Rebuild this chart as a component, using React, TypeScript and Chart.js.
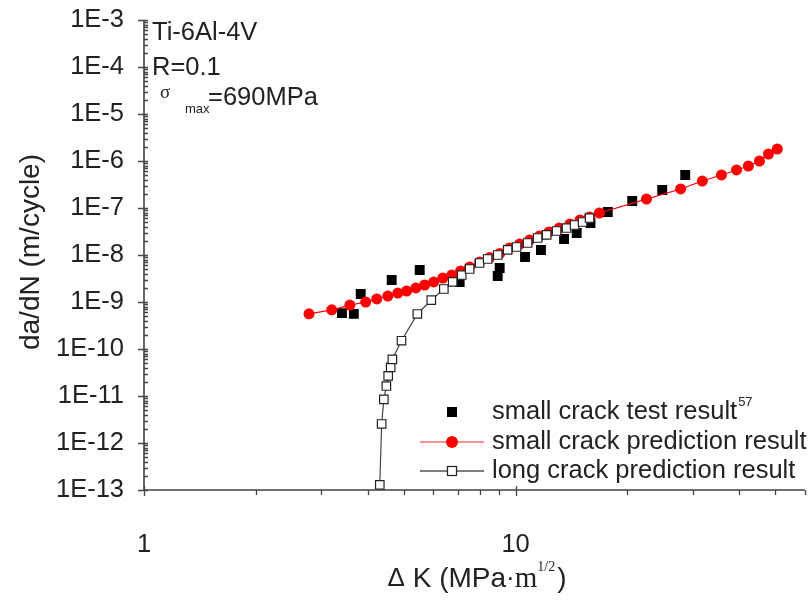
import React, { useEffect, useRef } from "react";
import { Chart, registerables } from "chart.js";

Chart.register(...registerables);

// Small crack test results (ΔK in MPa·m^1/2, da/dN in m/cycle)
const testDK = [3.41, 3.67, 3.83, 4.64, 5.52, 7.07, 8.95, 9.06, 10.6, 11.7, 13.5, 14.6, 15.9, 17.7, 20.6, 24.8, 28.6];
const testRate = [5.8e-10, 5.6e-10, 1.48e-9, 2.94e-9, 4.8e-9, 2.67e-9, 3.57e-9, 5.29e-9, 9.06e-9, 1.28e-8, 2.19e-8, 2.94e-8, 4.8e-8, 8.22e-8, 1.41e-7, 2.42e-7, 5.04e-7];

// Small crack prediction
const smallPredDK = [
  2.78, 3.2, 3.58, 3.95, 4.23, 4.53, 4.82, 5.09, 5.39, 5.69, 6.02, 6.37, 6.73, 7.11, 7.52, 8.0, 8.51, 9.06,
  9.63, 10.25, 10.9, 11.6, 12.3, 13.1, 14.0, 14.9, 15.8, 16.8, 22.5, 27.8, 31.8, 35.8, 39.3, 42.3, 45.3, 47.9, 50.6,
];
const smallPredRate = [
  5.6e-10, 6.8e-10, 8.6e-10, 1.0e-9, 1.16e-9, 1.34e-9, 1.55e-9, 1.71e-9, 1.99e-9, 2.3e-9, 2.67e-9, 3.24e-9, 3.75e-9,
  4.57e-9, 5.56e-9, 7.1e-9, 8.8e-9, 1.08e-8, 1.41e-8, 1.71e-8, 2.08e-8, 2.54e-8, 3.09e-8, 3.75e-8, 4.57e-8, 5.56e-8,
  6.44e-8, 7.83e-8, 1.55e-7, 2.54e-7, 3.75e-7, 5.04e-7, 6.44e-7, 7.83e-7, 1.0e-6, 1.41e-6, 1.8e-6,
];

// Long crack prediction
const longPredDK = [
  4.31, 4.36, 4.42, 4.49, 4.54, 4.61, 4.66, 4.93, 5.44, 5.93, 6.41, 6.77, 7.16, 7.52, 8.0, 8.41, 8.95, 9.52,
  10.06, 10.77, 11.46, 12.12, 12.89, 13.71, 14.41, 15.14, 15.81,
];
const longPredRate = [
  1.28e-13, 2.54e-12, 8.5e-12, 1.63e-11, 2.67e-11, 4.08e-11, 6.04e-11, 1.5e-10, 5.56e-10, 1.1e-9, 1.89e-9, 2.67e-9,
  3.75e-9, 5.04e-9, 6.76e-9, 8.22e-9, 1.0e-8, 1.28e-8, 1.48e-8, 1.8e-8, 2.3e-8, 2.67e-8, 3.24e-8, 3.75e-8, 4.35e-8,
  5.04e-8, 6.12e-8,
];

const xTickValues = [1, 10];
const yTickValues = [1e-13, 1e-12, 1e-11, 1e-10, 1e-9, 1e-8, 1e-7, 1e-6, 1e-5, 1e-4, 1e-3];
const xMinorValues = [2, 3, 4, 5, 6, 7, 8, 9, 20, 30, 40, 50, 60];

const legendLabels = ["small crack test result", "small crack prediction result", "long crack prediction result"];
const legendRef = "57";
const noteLines = ["Ti-6Al-4V", "R=0.1"];

const SANS = "'Liberation Sans', Arial, Helvetica, sans-serif";
const SERIF = "'Liberation Serif', 'Times New Roman', serif";
const TEXT = "#222";
const AXIS = "#444";
const RED = "#ff0000";
const FS = 25.5;

const toPoints = (xs: number[], ys: number[]) => xs.map((x, i) => ({ x, y: ys[i] }));

const axesPlugin = {
  id: "axesTicks",
  beforeDatasetsDraw(chart: any) {
    const { ctx, chartArea: a, scales } = chart;
    const x = scales.x;
    const y = scales.y;
    ctx.save();
    ctx.strokeStyle = AXIS;
    ctx.lineWidth = 1.6;
    ctx.beginPath();
    ctx.moveTo(a.left, a.top);
    ctx.lineTo(a.left, a.bottom);
    ctx.lineTo(a.right, a.bottom);
    ctx.stroke();

    ctx.lineWidth = 1.3;
    ctx.beginPath();
    // y: major ticks cross the axis, minor ticks point inward
    for (let e = -13; e <= -3; e++) {
      const py = Math.round(y.getPixelForValue(Math.pow(10, e))) + 0.5;
      ctx.moveTo(a.left - 6, py);
      ctx.lineTo(a.left + 4, py);
      if (e < -3) {
        for (let k = 2; k <= 9; k++) {
          const pm = Math.round(y.getPixelForValue(k * Math.pow(10, e))) + 0.5;
          ctx.moveTo(a.left, pm);
          ctx.lineTo(a.left + 4, pm);
        }
      }
    }
    // x: major ticks cross the axis, minor ticks point outward
    for (const v of xTickValues) {
      const px = Math.round(x.getPixelForValue(v)) + 0.5;
      ctx.moveTo(px, a.bottom - 4);
      ctx.lineTo(px, a.bottom + 6);
    }
    for (const v of xMinorValues) {
      const px = Math.round(x.getPixelForValue(v)) + 0.5;
      ctx.moveTo(px, a.bottom);
      ctx.lineTo(px, a.bottom + 5);
    }
    ctx.stroke();
    ctx.restore();
  },
  afterDraw(chart: any) {
    const { ctx } = chart;
    ctx.save();
    ctx.fillStyle = TEXT;
    ctx.textBaseline = "middle";
    ctx.textAlign = "left";

    // notes in the upper-left corner
    ctx.font = `${FS}px ${SANS}`;
    ctx.fillText(noteLines[0], 152, 33);
    ctx.fillText(noteLines[1], 152, 68);
    ctx.font = `19px ${SERIF}`;
    ctx.fillText("σ", 160, 93);
    ctx.font = `13px ${SANS}`;
    ctx.fillText("max", 185, 109);
    ctx.font = `${FS}px ${SANS}`;
    ctx.fillText("=690MPa", 208, 98);

    // legend
    const lx0 = 420;
    const lx1 = 484;
    const mx = 452;
    const tx = 492;
    const rows = [412, 442, 471];

    ctx.fillStyle = "#000";
    ctx.fillRect(mx - 5, rows[0] - 5, 10, 10);

    ctx.strokeStyle = "#ff6a6a";
    ctx.lineWidth = 1.5;
    ctx.beginPath();
    ctx.moveTo(lx0, rows[1]);
    ctx.lineTo(lx1, rows[1]);
    ctx.stroke();
    ctx.fillStyle = RED;
    ctx.beginPath();
    ctx.arc(mx, rows[1], 6, 0, Math.PI * 2);
    ctx.fill();

    ctx.strokeStyle = "#555";
    ctx.lineWidth = 1.5;
    ctx.beginPath();
    ctx.moveTo(lx0, rows[2]);
    ctx.lineTo(lx1, rows[2]);
    ctx.stroke();
    ctx.fillStyle = "#fff";
    ctx.fillRect(mx - 4.5, rows[2] - 4.5, 9, 9);
    ctx.strokeStyle = "#222";
    ctx.lineWidth = 1.2;
    ctx.strokeRect(mx - 4.5, rows[2] - 4.5, 9, 9);

    ctx.fillStyle = TEXT;
    ctx.font = `${FS}px ${SANS}`;
    legendLabels.forEach((t, i) => ctx.fillText(t, tx, rows[i]));
    const w0 = ctx.measureText(legendLabels[0]).width;
    ctx.font = `13px ${SANS}`;
    ctx.fillText(legendRef, tx + w0 + 1, rows[0] - 10);

    // y axis title
    ctx.save();
    ctx.translate(31, 252);
    ctx.rotate(-Math.PI / 2);
    ctx.textAlign = "center";
    ctx.font = `28px ${SANS}`;
    ctx.fillText("da/dN (m/cycle)", 0, 0);
    ctx.restore();

    // x axis title
    const ty = 579;
    ctx.textAlign = "left";
    const parts: [string, string, number][] = [
      ["Δ", `26px ${SANS}`, 0],
      [" K (MPa", `28px ${SANS}`, 0],
      ["·", `26px ${SANS}`, 0],
      ["m", `29px ${SERIF}`, 0],
      ["1/2", `14px ${SERIF}`, -12],
      [")", `28px ${SANS}`, 0],
    ];
    let total = 0;
    for (const [s, f] of parts) {
      ctx.font = f;
      total += ctx.measureText(s).width;
    }
    let cx = 476 - total / 2;
    for (const [s, f, dy] of parts) {
      ctx.font = f;
      ctx.fillText(s, cx, ty + dy);
      cx += ctx.measureText(s).width + (s === "1/2" ? 2 : 0);
    }
    ctx.restore();
  },
};

export default function App() {
  const canvasRef = useRef<HTMLCanvasElement | null>(null);

  useEffect(() => {
    const canvas = canvasRef.current;
    if (!canvas) return;
    const chart = new Chart(canvas, {
      type: "scatter",
      data: {
        datasets: [
          {
            label: legendLabels[2],
            data: toPoints(longPredDK, longPredRate),
            showLine: true,
            borderColor: "#444",
            borderWidth: 1.2,
            pointStyle: "rect",
            pointRadius: 6,
            pointBackgroundColor: "#fff",
            pointBorderColor: "#222",
            pointBorderWidth: 1.2,
            order: 0,
          },
          {
            label: legendLabels[1],
            data: toPoints(smallPredDK, smallPredRate),
            showLine: true,
            borderColor: RED,
            borderWidth: 1.2,
            pointStyle: "circle",
            pointRadius: 5.5,
            pointBackgroundColor: RED,
            pointBorderColor: RED,
            pointBorderWidth: 0,
            order: 1,
          },
          {
            label: legendLabels[0],
            data: toPoints(testDK, testRate),
            showLine: false,
            pointStyle: "rect",
            pointRadius: 7,
            pointBackgroundColor: "#000",
            pointBorderColor: "#000",
            pointBorderWidth: 0,
            order: 2,
          },
        ],
      },
      options: {
        animation: false,
        responsive: false,
        devicePixelRatio: 1,
        layout: { padding: { top: 20, right: 7, left: 0, bottom: 0 } },
        plugins: { legend: { display: false }, tooltip: { enabled: false } },
        scales: {
          x: {
            type: "logarithmic",
            position: "bottom",
            min: 1,
            max: 60,
            grid: { display: false, drawTicks: false },
            border: { display: false },
            afterFit: (s: any) => {
              s.height = 111;
              s.paddingLeft = 0;
              s.paddingRight = 0;
            },
            afterBuildTicks: (s: any) => {
              s.ticks = xTickValues.map((v) => ({ value: v }));
            },
            ticks: {
              autoSkip: false,
              maxRotation: 0,
              padding: 40,
              color: TEXT,
              font: { family: SANS, size: FS },
              callback: (v: any) => String(v),
            },
          },
          y: {
            type: "logarithmic",
            position: "left",
            min: 1e-13,
            max: 1e-3,
            grid: { display: false, drawTicks: false },
            border: { display: false },
            afterFit: (s: any) => {
              s.width = 144;
              s.paddingTop = 0;
              s.paddingBottom = 0;
            },
            afterBuildTicks: (s: any) => {
              s.ticks = yTickValues.map((v) => ({ value: v }));
            },
            ticks: {
              autoSkip: false,
              padding: 20,
              color: TEXT,
              font: { family: SANS, size: FS },
              callback: (v: any) => `1E${Math.round(Math.log10(Number(v)))}`,
            },
          },
        },
      },
      plugins: [axesPlugin],
    });
    return () => chart.destroy();
  }, []);

  return (
    <div style={{ position: "fixed", left: 0, top: 0, width: 812, height: 601, background: "#fff" }}>
      <canvas ref={canvasRef} width={812} height={601} style={{ display: "block" }} />
    </div>
  );
}
